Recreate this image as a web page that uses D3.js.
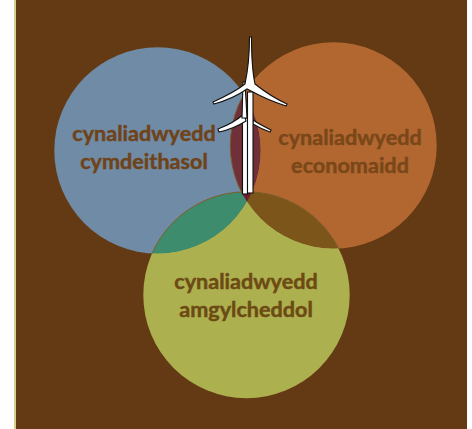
<!DOCTYPE html>
<html>
<head>
<meta charset="utf-8">
<script src="https://cdn.jsdelivr.net/npm/d3@7.9.0/dist/d3.min.js"></script>
<style>
  html, body { margin: 0; padding: 0; background: #fffdfd; }
  svg { display: block; }
  text { font-family: Lato, sans-serif; font-weight: 700; font-size: 21.6px; text-anchor: middle; stroke-width: 0.45px; }
</style>
</head>
<body>
<svg id="venn" width="472" height="429"></svg>
<script>
// three equal sets and their overlaps
const setNames = ['social', 'economic', 'environmental'];
const setSizes = [100, 100, 100];
const setLabels = [
  ['cynaliadwyedd', 'cymdeithasol'],
  ['cynaliadwyedd', 'economaidd'],
  ['cynaliadwyedd', 'amgylcheddol'],
];
const overlaps = [
  ['social', 'economic'],
  ['social', 'environmental'],
  ['economic', 'environmental'],
  ['social', 'economic', 'environmental'],
];

// layout and colours, kept apart from the data
const centres = { social: [157.5, 150.5], economic: [333.5, 145.5], environmental: [246.5, 295] };
const labelPos = { social: [144, 141], economic: [350, 145], environmental: [246, 289] };
const setColors = { social: '#6f8ba5', economic: '#b26730', environmental: '#adb04f' };
const labelColors = { social: '#6f4319', economic: '#794719', environmental: '#6c4a14' };
const overlapColors = ['#6f3039', '#3e8c6e', '#7c551a', '#6b1f30'];

const radius = d3.scaleSqrt().domain([0, 100]).range([0, 103.2]);

const svg = d3.select('#venn');

svg.append('rect').attr('x', 14).attr('width', 2).attr('height', 429).attr('fill', '#d8cf8c');
svg.append('rect').attr('x', 16).attr('width', 451).attr('height', 429).attr('fill', '#633a13');

const cx = (name) => centres[name][0];
const cy = (name) => centres[name][1];
const r = (name) => radius(setSizes[setNames.indexOf(name)]);

// one clipPath per set, nested for the overlaps
const defs = svg.append('defs');
setNames.forEach((name) => {
  defs.append('clipPath').attr('id', `clip-${name}`)
    .append('circle').attr('cx', cx(name)).attr('cy', cy(name)).attr('r', r(name));
});

svg.selectAll('circle.set')
  .data(setNames)
  .join('circle')
  .attr('class', 'set')
  .attr('cx', cx)
  .attr('cy', cy)
  .attr('r', r)
  .attr('fill', (d) => setColors[d]);

overlaps.forEach((group, i) => {
  let parent = svg.append('g');
  group.slice(0, -1).forEach((name) => {
    parent = parent.append('g').attr('clip-path', `url(#clip-${name})`);
  });
  const last = group[group.length - 1];
  parent.append('g').attr('clip-path', `url(#clip-${group[0]})`)
    .append('circle')
    .attr('cx', cx(last))
    .attr('cy', cy(last))
    .attr('r', r(last))
    .attr('fill', overlapColors[i])
    .attr('stroke', '#7b5a2a')
    .attr('stroke-width', 1);
});

// wind turbines, back one first
const turbine = svg.append('g').attr('fill', '#fff').attr('stroke', '#111').attr('stroke-width', 1.1);
turbine.append('rect').attr('x', 242.5).attr('y', 118).attr('width', 5).attr('height', 76);
turbine.append('path').attr('d', 'M244 114 C236 121 226 126 218 129 L219 132 C229 130 238 126 246 121 Z');
turbine.append('path').attr('d', 'M253 120 C259 124 265 127 271 130 L270 132 C264 130 258 127 253 124 Z');
turbine.append('path').attr('d', 'M243 82 L245 82 L247 118 L242 118 Z');
turbine.append('rect').attr('x', 247.5).attr('y', 92).attr('width', 5.5).attr('height', 101);
turbine.append('path').attr('d', 'M249.5 37 L251.5 37 C251.5 55 252 70 255 84 C265 92 276 99 287 104 L286 106 C274 102 262 97 253 92 L247 89 C237 96 225 101 214 104 L213 102 C224 97 236 91 245 84 C248 70 249.5 55 249.5 37 Z');

// labels
setNames.forEach((name, i) => {
  const label = svg.append('text')
    .attr('x', labelPos[name][0])
    .attr('y', labelPos[name][1])
    .attr('fill', labelColors[name])
    .attr('stroke', labelColors[name]);
  setLabels[i].forEach((line, j) => {
    label.append('tspan')
      .attr('x', labelPos[name][0])
      .attr('dy', j === 0 ? 0 : 28)
      .text(line);
  });
});
</script>
</body>
</html>
